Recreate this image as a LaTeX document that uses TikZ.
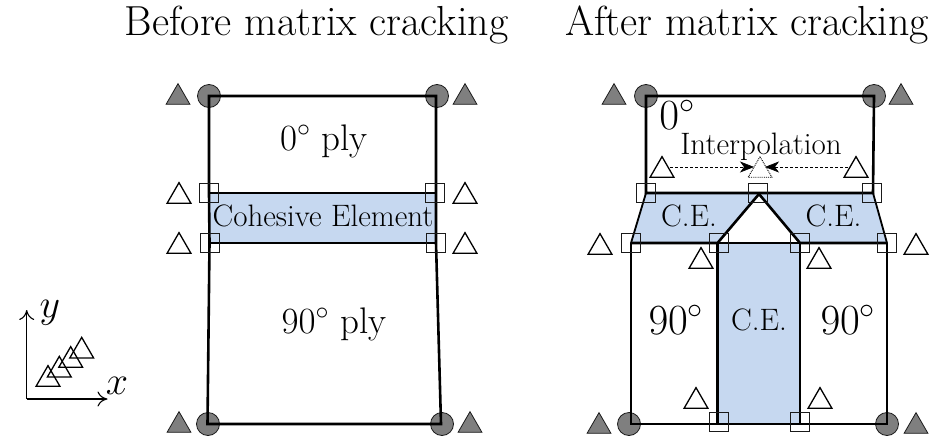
\RequirePackage{fix-cm}
\documentclass[tikz,border=0pt]{standalone}
\usetikzlibrary{shapes.geometric,arrows.meta}
\definecolor{ceblue}{HTML}{C6D8F0}
\definecolor{mgray}{HTML}{7F7F7F}
\definecolor{inkc}{HTML}{1A1A1A}
\tikzset{
  plyline/.style={line width=2.6pt,black,line join=miter},
  thinply/.style={line width=1.3pt,black},
  hole/.style={circle,draw=inkc,fill=mgray,line width=0.8pt,minimum size=23pt,inner sep=0pt,outer sep=0pt},
  basetri/.style={regular polygon,regular polygon sides=3,minimum size=27.5pt,inner sep=0pt,outer sep=0pt,yshift=-3.4pt},
  graytri/.style={basetri,draw=inkc,fill=mgray,line width=0.8pt},
  whitetri/.style={basetri,draw=black,line width=1.3pt},
  dottri/.style={basetri,draw=black,densely dotted,line width=0.9pt},
  sq/.style={rectangle,draw=inkc,line width=1.1pt,minimum size=19pt,inner sep=0pt,outer sep=0pt},
  titletext/.style={font=\fontsize{42}{46}\selectfont,inner sep=0pt,anchor=base},
  bigtext/.style={font=\fontsize{37}{40}\selectfont,inner sep=0pt,anchor=base},
  hugetext/.style={font=\fontsize{43}{47}\selectfont,inner sep=0pt,anchor=base},
  axislabel/.style={font=\fontsize{40}{44}\selectfont,inner sep=0pt,anchor=base},
  smalltext/.style={font=\fontsize{31}{34}\selectfont,inner sep=0pt,anchor=base},
  axis/.style={line width=1.1pt,-{To[length=10pt,width=15pt,line width=1.1pt]}},
  interp/.style={densely dashed,line width=0.6pt,-{Stealth[length=14pt,width=11pt,inset=4pt]}},
}
\begin{document}
\begin{tikzpicture}[x=1pt,y=-1pt]
\useasboundingbox (0,0) rectangle (933,439);
% titles
\node[titletext] (t1) at (316.5,35) {Before matrix cracking};
\node[titletext] (t2) at (747,35) {After matrix cracking};
% hole markers (behind the lines)
\node[hole] (cl1) at (209,96) {};
\node[hole] (cl2) at (437,96) {};
\node[hole] (cl3) at (208,424) {};
\node[hole] (cl4) at (442,424) {};
\node[hole] (cr1) at (646,96) {};
\node[hole] (cr2) at (874,96) {};
\node[hole] (cr3) at (629,424) {};
\node[hole] (cr4) at (887,424) {};
% left corner points
\coordinate (la) at (209,96);
\coordinate (lb) at (436,96);
\coordinate (lc) at (436,193);
\coordinate (ld) at (209,193);
\coordinate (le) at (209.5,243);
\coordinate (lf) at (436,243);
\coordinate (lg) at (441,424);
\coordinate (lh) at (207.5,424);
% right corner points
\coordinate (ra) at (646,96);
\coordinate (rb) at (874,96);
\coordinate (rc) at (873,193);
\coordinate (rd) at (646,193);
\coordinate (re) at (631,243);
\coordinate (rf) at (717.5,243);
\coordinate (rg) at (759,194);
\coordinate (rh) at (800,243);
\coordinate (ri) at (887,243);
\coordinate (rj) at (631,424);
\coordinate (rk) at (717.5,424);
\coordinate (rl) at (800,424);
\coordinate (rm) at (887,424);
% fills
\fill[ceblue] (ld) -- (lc) -- (lf) -- (le) -- cycle;
\fill[ceblue] (rd) -- (rc) -- (ri) -- (rh) -- (rg) -- (rf) -- (re) -- cycle;
\fill[ceblue] (rf) -- (rh) -- (rl) -- (rk) -- cycle;
% left outline
\draw[plyline] (la) -- (lb) -- (lc) -- (lf) -- (lg) -- (lh) -- (le) -- (ld) -- cycle;
\draw[plyline] (ld) -- (lc);
\draw[plyline] (le) -- (lf);
% right outline
\draw[plyline] (ra) -- (rb) -- (rc) -- (rd) -- cycle;
\draw[plyline,line width=1.8pt] (rd) -- (re);
\draw[plyline,line width=1.8pt] (rc) -- (ri);
\draw[plyline] (re) -- (rf) -- (rg) -- (rh) -- (ri);
\draw[thinply] (rf) -- (rh);
\draw[plyline] (re) -- (rj) -- (rk);
\draw[plyline] (rl) -- (rm) -- (ri);
\draw[thinply] (rk) -- (rl);
\draw[plyline] (rf) -- (rk);
\draw[plyline] (rh) -- (rl);
% gray triangles
\node[graytri] (gl1) at (178,94) {};
\node[graytri] (gl2) at (465,94) {};
\node[graytri] (gl3) at (179,422) {};
\node[graytri] (gl4) at (470,422) {};
\node[graytri] (gr1) at (614,94) {};
\node[graytri] (gr2) at (901,94) {};
\node[graytri] (gr3) at (599,423) {};
\node[graytri] (gr4) at (916,423) {};
% white triangles, left
\node[whitetri] (wl1) at (179,193) {};
\node[whitetri] (wl2) at (465,193) {};
\node[whitetri] (wl3) at (179,243) {};
\node[whitetri] (wl4) at (465,243) {};
% white triangles, right
\node[whitetri] (wr1) at (662,167) {};
\node[whitetri] (wr2) at (856,167) {};
\node[dottri] (wm) at (760,167) {};
\node[whitetri] (wr3) at (600,244) {};
\node[whitetri] (wr4) at (916,244) {};
\node[whitetri] (wr5) at (701,258) {};
\node[whitetri] (wr6) at (819,258) {};
\node[whitetri] (wr7) at (696,398) {};
\node[whitetri] (wr8) at (820,398) {};
% squares
\node[sq] (sl1) at (209,193) {};
\node[sq] (sl2) at (435,193) {};
\node[sq] (sl3) at (210,243) {};
\node[sq] (sl4) at (436,243) {};
\node[sq] (sr1) at (646,193) {};
\node[sq] (sr2) at (758,193) {};
\node[sq] (sr3) at (872,193) {};
\node[sq] (sr4) at (631,243) {};
\node[sq] (sr5) at (719,243) {};
\node[sq] (sr6) at (800,243) {};
\node[sq] (sr7) at (887,243) {};
\node[sq] (sr8) at (719,422) {};
\node[sq] (sr9) at (800,422) {};
% interpolation arrows
\draw[interp,shorten <=8pt,shorten >=6pt] ([yshift=3.4pt]wr1.center) -- ([yshift=3.4pt]wm.center);
\draw[interp,shorten <=8pt,shorten >=5pt] ([yshift=3.4pt]wr2.center) -- ([yshift=3.4pt]wm.center);
% labels
\node[bigtext] (lp0) at (324,150) {$0^\circ$ ply};
\node[bigtext] (lp90) at (334,333) {$90^\circ$ ply};
\node[smalltext] (lce) at (323,226) {Cohesive Element};
\node[hugetext] (r0) at (677,129) {$0^\circ$};
\node[smalltext] (rint) at (761,154) {Interpolation};
\node[smalltext] (rce1) at (689,226) {C.E.};
\node[smalltext] (rce2) at (833.5,226) {C.E.};
\node[smalltext] (rce3) at (759,330) {C.E.};
\node[hugetext] (r90a) at (676,334) {$90^\circ$};
\node[hugetext] (r90b) at (848,334) {$90^\circ$};
% axes
\coordinate (o) at (26.7,399);
\coordinate (ay) at (26.7,310);
\coordinate (ax) at (107.5,399);
\draw[axis] (o) -- (ay);
\draw[axis] (o) -- (ax);
\node[axislabel] (ly) at (50,317) {$y$};
\node[axislabel] (lx) at (117,394) {$x$};
\node[whitetri] (a1) at (48,376) {};
\node[whitetri] (a2) at (59.3,366.7) {};
\node[whitetri] (a3) at (70.7,357) {};
\node[whitetri] (a4) at (81.7,347.7) {};
\end{tikzpicture}
\end{document}
